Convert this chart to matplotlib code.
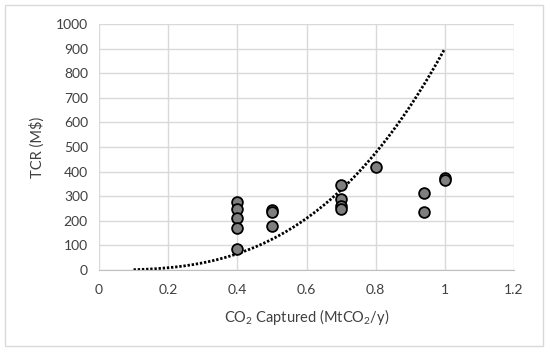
import matplotlib
matplotlib.use("Agg")
import matplotlib.pyplot as plt
import numpy as np

plt.rcParams['font.family'] = ['Lato', 'DejaVu Sans']
plt.rcParams['mathtext.fontset'] = 'custom'
plt.rcParams['mathtext.rm'] = 'Lato'
plt.rcParams['mathtext.it'] = 'Lato'

# scatter points
co2 = [0.4, 0.4, 0.4, 0.4, 0.4, 0.5, 0.5, 0.5, 0.7, 0.7, 0.7, 0.7,
       0.8, 0.94, 0.94, 1.0, 1.0]
tcr = [275, 250, 210, 170, 85, 245, 237, 180, 345, 287, 261, 249,
       420, 312, 234, 373, 365]

# dotted trend curve: tcr = a * co2^b, drawn from x0 to x1
trend_a = 900
trend_b = 2.85
trend_x0, trend_x1 = 0.1, 1.0

xticks = [0, 0.2, 0.4, 0.6, 0.8, 1, 1.2]
xlabels = ['0', '0.2', '0.4', '0.6', '0.8', '1', '1.2']
yticks = list(range(0, 1001, 100))

fig = plt.figure(figsize=(5.5, 3.53), dpi=100)
ax = fig.add_axes([99/550, 1 - 270/353, 415/550, 246/353])

xs = np.linspace(trend_x0, trend_x1, 200)
ax.plot(xs, trend_a * xs**trend_b, color='black', linestyle=(0, (0.85, 0.65)),
        linewidth=2.0, dash_capstyle='butt', zorder=2)
ax.scatter(co2, tcr, s=60, facecolor='#7f7f7f', edgecolor='black',
           linewidth=1.3, zorder=3)

ax.set_xlim(0, 1.2)
ax.set_ylim(0, 1000)
ax.set_xticks(xticks)
ax.set_xticklabels(xlabels)
ax.set_yticks(yticks)
ax.grid(True, color='#d9d9d9', linewidth=1)
ax.set_axisbelow(True)
for s in ['top', 'right', 'left']:
    ax.spines[s].set_visible(False)
ax.spines['bottom'].set_color('#bfbfbf')
ax.tick_params(length=0, labelsize=10, colors='#404040', pad=8)
ax.tick_params(axis='x', pad=10)

ax.set_xlabel('CO$_2$ Captured (MtCO$_2$/y)', fontsize=10.5, color='#404040', labelpad=8)
ax.set_ylabel('TCR (M$)', fontsize=10.5, color='#404040', labelpad=8)

# outer chart border
fig.patches.append(plt.Rectangle((5/550, 7/353), 538/550, 341/353, transform=fig.transFigure,
                                 fill=False, edgecolor='#d9d9d9', linewidth=1))

fig.savefig('out.png', dpi=100)
